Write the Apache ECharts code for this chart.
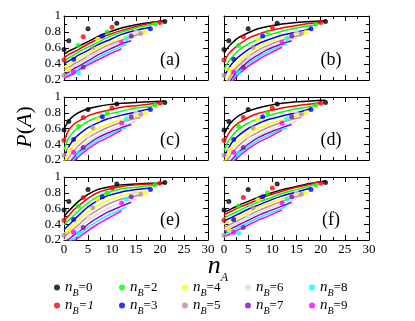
<!DOCTYPE html>
<html>
<head>
<meta charset="utf-8">
<script src="https://cdn.jsdelivr.net/npm/echarts@6/dist/echarts.min.js"></script>
<style>
  html, body { margin: 0; padding: 0; background: #fff; }
  #chart { width: 415px; height: 321px; }
</style>
</head>
<body>
<div id="chart"></div>
<script>
var nBValues = [0, 1, 2, 3, 4, 5, 6, 7, 8, 9]
var colors = ['#000000', '#ff0000', '#00ff00', '#0000ff', '#ffff00', '#bc8f8f', '#dcdcdc', '#9400d3', '#00ffff', '#ff00ff']
var panelNames = ['(a)', '(b)', '(c)', '(d)', '(e)', '(f)']

// measured points, one list per nB
var dotsNA = [[0, 1, 5, 11, 21], [0, 4, 10, 20], [3, 9, 19], [2, 8, 18], [1, 7, 17], [0, 6, 16], [5, 15], [4, 14], [3, 13], [2, 12]]
var dotsP = [
    [0.58, 0.69, 0.84, 0.91, 0.93],
    [0.45, 0.74, 0.86, 0.92],
    [0.63, 0.80, 0.90],
    [0.46, 0.75, 0.84],
    [0.33, 0.71, 0.80],
    [0.26, 0.61, 0.78],
    [0.50, 0.80],
    [0.36, 0.75],
    [0.29, 0.72],
    [0.30, 0.67]
]

// model curves, read at these nA values; each curve stops at nA = 21 - nB
var curveNA = [0, 1, 2, 3, 5, 7, 9, 12, 15, 18]
var curvesA = [
    [0.52, 0.56, 0.59, 0.62, 0.68, 0.74, 0.79, 0.85, 0.89, 0.92, 0.94],
    [0.48, 0.52, 0.55, 0.58, 0.65, 0.71, 0.76, 0.82, 0.87, 0.91, 0.93],
    [0.44, 0.48, 0.51, 0.55, 0.61, 0.67, 0.73, 0.80, 0.85, 0.89, 0.90],
    [0.40, 0.44, 0.47, 0.51, 0.57, 0.64, 0.69, 0.77, 0.82, 0.86],
    [0.36, 0.40, 0.43, 0.47, 0.54, 0.60, 0.66, 0.73, 0.79, 0.82],
    [0.33, 0.36, 0.40, 0.43, 0.50, 0.57, 0.63, 0.70, 0.76, 0.78],
    [0.30, 0.33, 0.37, 0.40, 0.47, 0.54, 0.60, 0.68, 0.74],
    [0.27, 0.30, 0.34, 0.37, 0.44, 0.51, 0.57, 0.65, 0.69],
    [0.24, 0.27, 0.31, 0.34, 0.41, 0.48, 0.54, 0.62, 0.64],
    [0.22, 0.25, 0.28, 0.32, 0.39, 0.45, 0.51, 0.59]
]
var curvesB = [
    [0.53, 0.62, 0.68, 0.73, 0.79, 0.84, 0.87, 0.90, 0.92, 0.93, 0.94],
    [0.43, 0.53, 0.59, 0.64, 0.72, 0.77, 0.81, 0.85, 0.88, 0.91, 0.92],
    [0.33, 0.44, 0.51, 0.57, 0.65, 0.71, 0.76, 0.81, 0.85, 0.88, 0.89],
    [0.24, 0.35, 0.43, 0.49, 0.58, 0.65, 0.70, 0.76, 0.80, 0.84],
    [0.10, 0.25, 0.35, 0.42, 0.53, 0.61, 0.67, 0.73, 0.78, 0.80],
    [0.05, 0.21, 0.31, 0.38, 0.49, 0.57, 0.63, 0.70, 0.75, 0.76],
    [0.02, 0.18, 0.28, 0.35, 0.46, 0.54, 0.60, 0.67, 0.73],
    [0.00, 0.15, 0.25, 0.32, 0.43, 0.51, 0.58, 0.65, 0.69],
    [-0.02, 0.12, 0.22, 0.29, 0.40, 0.48, 0.55, 0.63, 0.65],
    [-0.04, 0.10, 0.20, 0.27, 0.37, 0.45, 0.52, 0.61]
]
var curvesC = [
    [0.59, 0.70, 0.76, 0.80, 0.85, 0.88, 0.90, 0.92, 0.93, 0.94, 0.95],
    [0.45, 0.58, 0.65, 0.69, 0.76, 0.80, 0.83, 0.87, 0.89, 0.91, 0.93],
    [0.33, 0.48, 0.56, 0.61, 0.69, 0.74, 0.78, 0.82, 0.86, 0.88, 0.90],
    [0.24, 0.37, 0.46, 0.52, 0.61, 0.67, 0.72, 0.77, 0.81, 0.85],
    [0.17, 0.29, 0.38, 0.44, 0.54, 0.60, 0.65, 0.71, 0.76, 0.79],
    [0.12, 0.23, 0.31, 0.38, 0.48, 0.55, 0.61, 0.68, 0.73, 0.74],
    [0.08, 0.18, 0.26, 0.33, 0.43, 0.51, 0.57, 0.64, 0.69],
    [0.05, 0.15, 0.23, 0.30, 0.40, 0.48, 0.54, 0.61, 0.65],
    [0.02, 0.12, 0.20, 0.27, 0.37, 0.45, 0.51, 0.59, 0.61],
    [0.00, 0.10, 0.18, 0.24, 0.34, 0.42, 0.48, 0.58]
]
var curvesD = [
    [0.52, 0.64, 0.71, 0.76, 0.82, 0.86, 0.89, 0.92, 0.94, 0.95, 0.96],
    [0.42, 0.54, 0.62, 0.67, 0.74, 0.79, 0.82, 0.86, 0.89, 0.91, 0.93],
    [0.32, 0.45, 0.53, 0.59, 0.67, 0.72, 0.76, 0.81, 0.85, 0.88, 0.90],
    [0.24, 0.36, 0.45, 0.51, 0.60, 0.66, 0.71, 0.76, 0.80, 0.85],
    [0.17, 0.29, 0.38, 0.44, 0.54, 0.60, 0.65, 0.71, 0.76, 0.79],
    [0.12, 0.23, 0.31, 0.38, 0.48, 0.55, 0.61, 0.68, 0.73, 0.74],
    [0.08, 0.18, 0.26, 0.33, 0.43, 0.51, 0.57, 0.64, 0.69],
    [0.05, 0.15, 0.23, 0.30, 0.40, 0.48, 0.54, 0.61, 0.65],
    [0.02, 0.12, 0.20, 0.27, 0.37, 0.45, 0.51, 0.59, 0.61],
    [0.00, 0.10, 0.18, 0.24, 0.34, 0.42, 0.48, 0.58]
]
var curvesE = [
    [0.50, 0.57, 0.63, 0.69, 0.78, 0.84, 0.87, 0.90, 0.91, 0.92, 0.92],
    [0.45, 0.51, 0.58, 0.63, 0.73, 0.80, 0.84, 0.88, 0.90, 0.91, 0.91],
    [0.39, 0.45, 0.51, 0.57, 0.67, 0.75, 0.80, 0.85, 0.87, 0.89, 0.89],
    [0.33, 0.39, 0.45, 0.51, 0.62, 0.70, 0.76, 0.81, 0.84, 0.86],
    [0.28, 0.33, 0.39, 0.45, 0.56, 0.64, 0.70, 0.76, 0.80, 0.82],
    [0.24, 0.29, 0.34, 0.39, 0.50, 0.58, 0.65, 0.72, 0.76, 0.77],
    [0.20, 0.25, 0.30, 0.35, 0.45, 0.53, 0.60, 0.67, 0.72],
    [0.17, 0.21, 0.26, 0.30, 0.40, 0.48, 0.55, 0.63, 0.68],
    [0.14, 0.18, 0.22, 0.26, 0.36, 0.44, 0.51, 0.59, 0.62],
    [0.12, 0.15, 0.19, 0.23, 0.32, 0.40, 0.47, 0.57]
]
var curvesF = [
    [0.55, 0.58, 0.61, 0.64, 0.69, 0.74, 0.78, 0.84, 0.88, 0.92, 0.95],
    [0.52, 0.55, 0.58, 0.61, 0.66, 0.71, 0.76, 0.82, 0.87, 0.91, 0.94],
    [0.48, 0.51, 0.54, 0.57, 0.63, 0.68, 0.72, 0.79, 0.84, 0.89, 0.91],
    [0.44, 0.47, 0.50, 0.53, 0.59, 0.64, 0.69, 0.76, 0.81, 0.86],
    [0.40, 0.43, 0.46, 0.49, 0.55, 0.61, 0.66, 0.72, 0.78, 0.82],
    [0.36, 0.39, 0.42, 0.45, 0.51, 0.57, 0.62, 0.69, 0.75, 0.77],
    [0.33, 0.36, 0.39, 0.42, 0.48, 0.54, 0.59, 0.66, 0.72],
    [0.30, 0.33, 0.36, 0.39, 0.45, 0.51, 0.56, 0.63, 0.68],
    [0.27, 0.30, 0.33, 0.36, 0.42, 0.48, 0.53, 0.60, 0.64],
    [0.24, 0.27, 0.30, 0.33, 0.39, 0.45, 0.50, 0.58]
]
var panelCurves = [curvesA, curvesB, curvesC, curvesD, curvesE, curvesF]

var font = 'Liberation Serif'
var colLeft = [64, 224]
var colWidth = [144, 145]
var rowTop = [16, 97, 177]
var rowHeight = [64, 63, 63]

function curveX(nB) {
    var end = 21 - nB
    return curveNA.filter(function (x) { return x < end }).concat([end])
}

function yLabel(v) {
    return Math.abs(v - 1) < 1e-6 ? '1' : v.toFixed(1)
}

var grids = []
var xAxes = []
var yAxes = []
var series = []
var graphics = []

panelNames.forEach(function (name, p) {
    var col = p % 2
    var row = Math.floor(p / 2)
    grids.push({
        left: colLeft[col], top: rowTop[row],
        width: colWidth[col], height: rowHeight[row]
    })
    var tick = { show: true, inside: true, length: 5, lineStyle: { color: '#000' } }
    var minor = { show: true, splitNumber: 2, length: 3, lineStyle: { color: '#000' } }
    var line = { show: true, onZero: false, lineStyle: { color: '#000', width: 1 } }
    xAxes.push({
        gridIndex: p, type: 'value', min: 0, max: 30, interval: 5, position: 'bottom',
        axisLine: line, axisTick: tick, minorTick: minor, splitLine: { show: false },
        axisLabel: { show: row === 2, margin: 3, color: '#000', fontFamily: font, fontSize: 13 }
    })
    xAxes.push({
        gridIndex: p, type: 'value', min: 0, max: 30, interval: 5, position: 'top',
        axisLine: line, axisTick: tick, minorTick: minor, splitLine: { show: false },
        axisLabel: { show: false }
    })
    yAxes.push({
        gridIndex: p, type: 'value', min: 0.2, max: 1, interval: 0.2, position: 'left',
        axisLine: line, axisTick: tick, minorTick: minor, splitLine: { show: false },
        axisLabel: { show: col === 0, margin: 3, color: '#000', fontFamily: font, fontSize: 13, formatter: yLabel }
    })
    yAxes.push({
        gridIndex: p, type: 'value', min: 0.2, max: 1, interval: 0.2, position: 'right',
        axisLine: line, axisTick: tick, minorTick: minor, splitLine: { show: false },
        axisLabel: { show: false }
    })

    var curves = panelCurves[p]
    nBValues.forEach(function (nB) {
        var xs = curveX(nB)
        series.push({
            type: 'line', name: 'fit' + nB, xAxisIndex: 2 * p, yAxisIndex: 2 * p,
            data: xs.map(function (x, i) { return [x, curves[nB][i]] }),
            smooth: 0.3, showSymbol: false, clip: true, silent: true,
            lineStyle: { color: colors[nB], width: 1.5 }, z: 2
        })
    })
    nBValues.forEach(function (nB) {
        series.push({
            type: 'scatter', name: 'nB=' + nB, xAxisIndex: 2 * p, yAxisIndex: 2 * p,
            data: dotsNA[nB].map(function (x, i) { return [x, dotsP[nB][i]] }),
            symbol: 'circle', symbolSize: 5, itemStyle: { color: colors[nB] }, z: 3
        })
    })

    graphics.push({
        type: 'text', x: colLeft[col] + colWidth[col] - 38, y: rowTop[row] + rowHeight[row] - 20,
        style: { text: name, font: '18px "Liberation Serif"', fill: '#000', align: 'center', verticalAlign: 'middle' }
    })
})

graphics.push({
    type: 'text', x: 25, y: 127, rotation: Math.PI / 2,
    style: {
        text: '{i|P}{r|(}{i|A}{r|)}', align: 'center', verticalAlign: 'middle',
        rich: {
            i: { fontFamily: font, fontStyle: 'italic', fontSize: 22, fill: '#000' },
            r: { fontFamily: font, fontSize: 22, fill: '#000' }
        }
    }
})
graphics.push({
    type: 'text', x: 218, y: 266,
    style: {
        text: '{n|n}{a|A}', align: 'center', verticalAlign: 'middle',
        rich: {
            n: { fontFamily: font, fontStyle: 'italic', fontSize: 26, fill: '#000', lineHeight: 24 },
            a: { fontFamily: font, fontStyle: 'italic', fontSize: 12, fill: '#000', verticalAlign: 'bottom', lineHeight: 12, padding: [0, 0, -6, 0] }
        }
    }
})

var legendCols = [54, 119, 182, 245, 309]
var legendRows = [280, 298]
var legends = nBValues.map(function (nB) {
    return {
        data: ['nB=' + nB], left: legendCols[Math.floor(nB / 2)], top: legendRows[nB % 2],
        itemWidth: 6, itemHeight: 6, icon: 'circle', padding: 0, selectedMode: false,
        formatter: function (name) {
            var k = name.split('=')[1]
            return '{n|n}{b|B}{e|=' + k + '}'
        },
        textStyle: {
            rich: {
                n: { fontFamily: font, fontStyle: 'italic', fontSize: 15, color: '#000', lineHeight: 16 },
                b: { fontFamily: font, fontStyle: 'italic', fontSize: 10, color: '#000', verticalAlign: 'bottom', lineHeight: 10, padding: [0, 0, -3, 0] },
                e: { fontFamily: font, fontStyle: nB === 1 ? 'italic' : 'normal', fontSize: 13, color: '#000', lineHeight: 16 }
            }
        }
    }
})

var chart = echarts.init(document.getElementById('chart'))
chart.setOption({
    animation: false,
    backgroundColor: '#fff',
    grid: grids,
    xAxis: xAxes,
    yAxis: yAxes,
    legend: legends,
    series: series,
    graphic: graphics
})
</script>
</body>
</html>
